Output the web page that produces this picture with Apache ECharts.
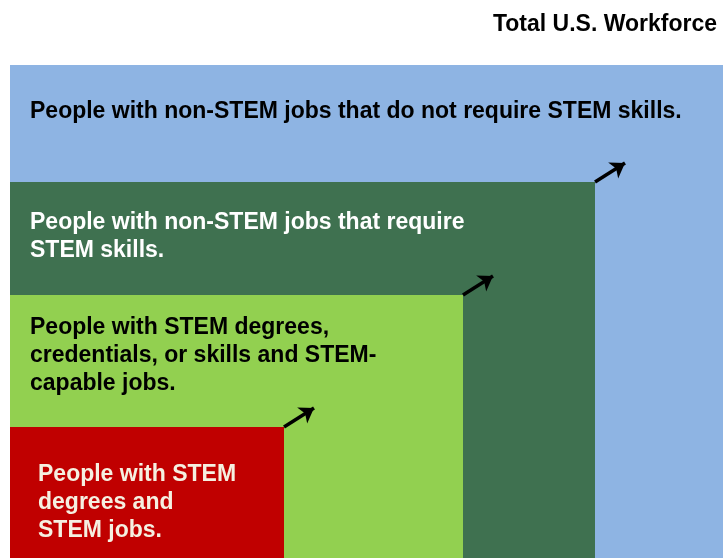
<!DOCTYPE html>
<html>
<head>
<meta charset="utf-8">
<script src="https://cdn.jsdelivr.net/npm/echarts@6/dist/echarts.min.js"></script>
<style>
  html, body { margin: 0; padding: 0; background: #fff; }
  #chart { width: 723px; height: 558px; }
</style>
</head>
<body>
<div id="chart"></div>
<script>
// nested groups, outermost first; extents in diagram units (0..723 wide, 0..558 tall)
var groupNames = [
    'People with non-STEM jobs that do not require STEM skills.',
    'People with non-STEM jobs that require\nSTEM skills.',
    'People with STEM degrees,\ncredentials, or skills and STEM-\ncapable jobs.',
    'People with STEM\ndegrees and\nSTEM jobs.'
];
var groupRight = [730, 595, 463, 284];
var groupTop = [65, 182, 295, 427];
var groupLeft = 10;
var groupBottom = 558;
var groupColors = ['#8EB4E3', '#3F7150', '#92D050', '#C00000'];
var textColors = ['#000000', '#FFFFFF', '#000000', '#F5F0E1'];
var textOffsets = [[20, 33], [20, 27], [20, 19], [28, 34]];

var chartDom = document.getElementById('chart');
var myChart = echarts.init(chartDom);

var boxData = groupNames.map(function (n, i) {
    return [groupLeft, groupTop[i], groupRight[i], groupBottom, i];
});

// arrows from the top-right corner of each inner box
var arrowData = [];
for (var i = 1; i < groupNames.length; i++) {
    arrowData.push({
        coords: [[groupRight[i], groupTop[i]], [groupRight[i] + 30, groupTop[i] - 19]]
    });
}

var option = {
    animation: false,
    grid: { left: 0, right: 0, top: 0, bottom: 0 },
    xAxis: { type: 'value', min: 0, max: 723, show: false },
    yAxis: { type: 'value', min: 0, max: 558, inverse: true, show: false },
    title: {
        text: 'Total U.S. Workforce',
        right: 1,
        top: 8,
        textStyle: {
            fontFamily: 'Liberation Sans, Arial',
            fontWeight: 'bold',
            fontSize: 23,
            color: '#000'
        }
    },
    series: [
        {
            type: 'custom',
            clip: true,
            data: boxData,
            renderItem: function (params, api) {
                var p0 = api.coord([api.value(0), api.value(1)]);
                var p1 = api.coord([api.value(2), api.value(3)]);
                var idx = api.value(4);
                return {
                    type: 'group',
                    children: [
                        {
                            type: 'rect',
                            shape: { x: p0[0], y: p0[1], width: p1[0] - p0[0], height: p1[1] - p0[1] },
                            style: { fill: groupColors[idx] }
                        },
                        {
                            type: 'text',
                            x: p0[0] + textOffsets[idx][0],
                            y: p0[1] + textOffsets[idx][1],
                            style: {
                                text: groupNames[idx],
                                fill: textColors[idx],
                                font: 'bold 23px "Liberation Sans", Arial, sans-serif',
                                lineHeight: 28,
                                textVerticalAlign: 'top'
                            }
                        }
                    ]
                };
            }
        },
        {
            type: 'lines',
            coordinateSystem: 'cartesian2d',
            symbol: ['none', 'arrow'],
            symbolSize: 14,
            lineStyle: { color: '#000', width: 3.5, opacity: 1 },
            data: arrowData,
            z: 5
        }
    ]
};

option && myChart.setOption(option);
</script>
</body>
</html>
